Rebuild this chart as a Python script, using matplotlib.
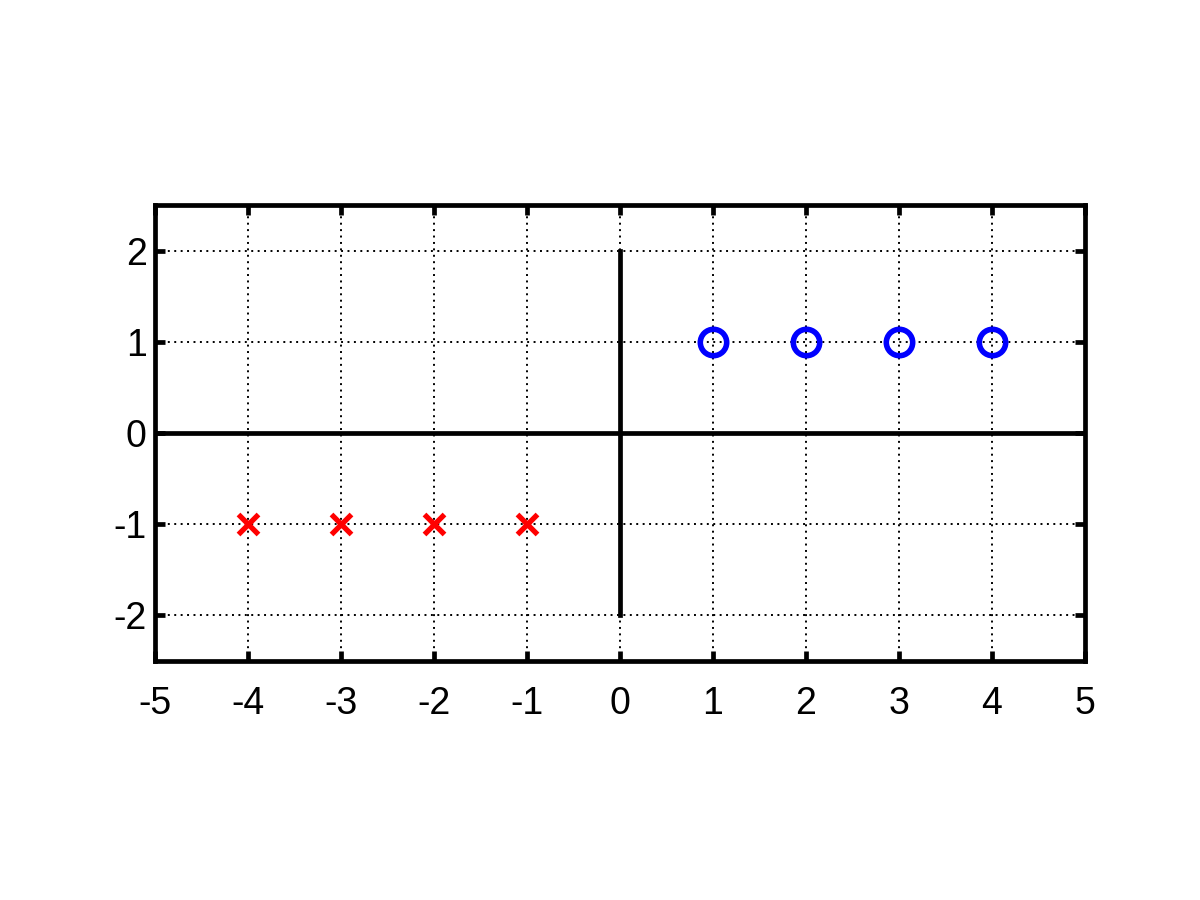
import matplotlib
matplotlib.use("Agg")
import matplotlib.pyplot as plt

# data
pos_x = [1, 2, 3, 4]
pos_y = [1, 1, 1, 1]
neg_x = [-4, -3, -2, -1]
neg_y = [-1, -1, -1, -1]
xticks = [-5, -4, -3, -2, -1, 0, 1, 2, 3, 4, 5]
yticks = [-2, -1, 0, 1, 2]

plt.rcParams['font.family'] = ['Liberation Sans', 'DejaVu Sans']
plt.rcParams['axes.unicode_minus'] = False

fig = plt.figure(figsize=(12, 9), dpi=100)
ax = fig.add_axes([0.1292, 0.2656, 0.775, 0.5067])

ax.plot([-5, 5], [0, 0], color='black', lw=3.4)
ax.plot([0, 0], [-2, 2], color='black', lw=3.4)

ax.plot(pos_x, pos_y, 'o', ms=19, mfc='none', mec='blue', mew=4, zorder=5)
ax.plot(neg_x, neg_y, 'x', ms=14, color='red', mew=3.8, zorder=5)

ax.set_xlim(-5, 5)
ax.set_ylim(-2.5, 2.5)
ax.set_xticks(xticks)
ax.set_yticks(yticks)
ax.grid(True, color='black', linestyle=(0, (1, 2.3)), linewidth=1.4)
ax.set_axisbelow(True)

for s in ax.spines.values():
    s.set_linewidth(3.4)
ax.tick_params(direction='in', length=7, width=3.4, top=True, right=True,
               labelsize=27)
ax.tick_params(axis='x', pad=18)
ax.tick_params(axis='y', pad=6)

fig.savefig("out.png", dpi=100)
